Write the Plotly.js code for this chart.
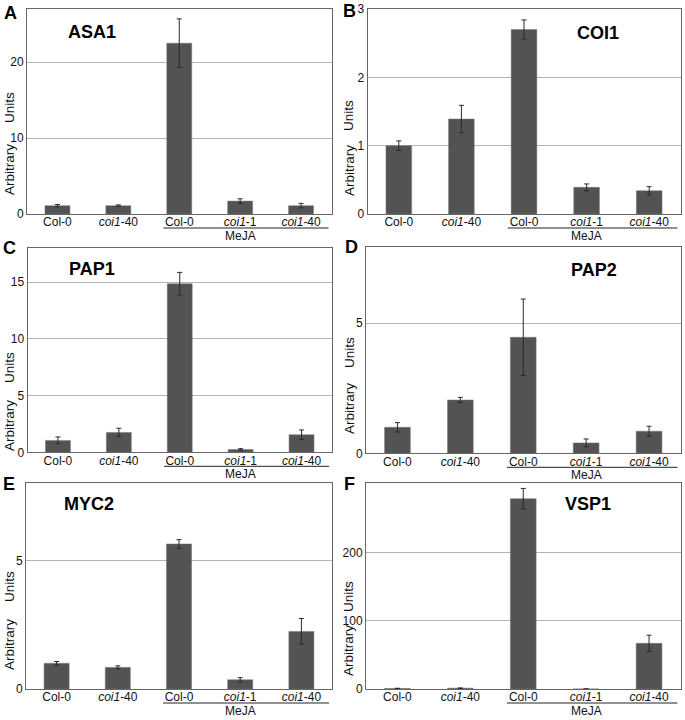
<!DOCTYPE html>
<html><head><meta charset="utf-8">
<script src="https://cdn.plot.ly/plotly-3.0.1.min.js"></script>
<style>body{margin:0;background:#fff}#chart{width:685px;height:720px}</style>
</head><body><div id="chart"></div>
<script>
// ---- data ----
const tickLabels = ['Col-0', '<i>coi1</i>-40', 'Col-0', '<i>coi1</i>-1', '<i>coi1</i>-40'];
const treatmentLabel = 'MeJA';
const panelLetters = ['A', 'B', 'C', 'D', 'E', 'F'];
const genes = ['ASA1', 'COI1', 'PAP1', 'PAP2', 'MYC2', 'VSP1'];
const asa1 = [1.1, 1.1, 22.5, 1.7, 1.1];
const asa1Err = [0.15, 0.1, 3.2, 0.3, 0.3];
const coi1 = [1.0, 1.39, 2.7, 0.39, 0.34];
const coi1Err = [0.07, 0.2, 0.14, 0.05, 0.06];
const pap1 = [1.05, 1.75, 14.85, 0.25, 1.55];
const pap1Err = [0.3, 0.37, 1.0, 0.07, 0.42];
const pap2 = [1.0, 2.05, 4.46, 0.4, 0.85];
const pap2Err = [0.18, 0.1, 1.47, 0.15, 0.19];
const myc2 = [1.0, 0.84, 5.64, 0.36, 2.24];
const myc2Err = [0.07, 0.06, 0.17, 0.08, 0.5];
const vsp1 = [0.8, 1.2, 278.5, 0.1, 66.8];
const vsp1Err = [0.3, 0.3, 15, 0, 12];
const yRanges = [[0, 27], [0, 3], [0, 18], [0, 7.92], [0, 8], [0, 301]];
const yTicks = [[0, 10, 20], [0, 1, 2, 3], [0, 5, 10, 15], [0, 5], [0, 5], [0, 100, 200]];

// ---- layout geometry (pixels) ----
const W = 685, H = 720;
const px = x => x / W, py = y => 1 - y / H;
const boxes = [
  {l: 27, r: 331.5, t: 9, b: 214},
  {l: 367.5, r: 680.5, t: 9, b: 214},
  {l: 27.5, r: 332, t: 248, b: 452.3},
  {l: 366, r: 680.5, t: 247.3, b: 453.3},
  {l: 26, r: 332, t: 483.3, b: 689},
  {l: 366, r: 680.5, t: 483.3, b: 689}
];
const letterPos = [[10, 13], [349.5, 11], [9.5, 248], [351, 247], [9, 484], [349.5, 484]];
const genePos = [[91.7, 32], [597.7, 33], [91.7, 269], [593.5, 270], [89, 504], [587.5, 504]];
const ytitlePos = [
  {x: 9, a: 170, u: 108}, {x: 349, a: 171, u: 116},
  {x: 9, a: 426, u: 368}, {x: 349, a: 409, u: 353},
  {x: 9, a: 645, u: 587}, {x: 348, a: 650, u: 596}
];

const series = [asa1, coi1, pap1, pap2, myc2, vsp1];
const errs = [asa1Err, coi1Err, pap1Err, pap2Err, myc2Err, vsp1Err];
const xs = [0, 1, 2, 3, 4];
const FONT = 'Liberation Sans, Arial, Helvetica, sans-serif';

const traces = [];
const layout = {
  width: W, height: H, margin: {l: 0, r: 0, t: 0, b: 0},
  paper_bgcolor: '#fff', plot_bgcolor: '#fff', showlegend: false,
  font: {family: FONT, size: 12, color: '#111'},
  annotations: [], shapes: []
};
const ann = (o) => Object.assign({showarrow: false, xanchor: 'center', yanchor: 'middle'}, o);

series.forEach((vals, i) => {
  const n = i + 1, sfx = n === 1 ? '' : String(n);
  traces.push({
    type: 'bar', x: xs, y: vals, xaxis: 'x' + sfx, yaxis: 'y' + sfx, width: 0.41,
    marker: {color: '#535353', line: {color: '#777', width: 0.5}},
    error_y: {type: 'data', array: errs[i], visible: true, color: '#2a2a2a', thickness: 1, width: 2.5},
    hoverinfo: 'skip'
  });
  const b = boxes[i];
  layout['xaxis' + sfx] = {
    domain: [px(b.l), px(b.r)], anchor: 'y' + sfx, range: [-0.5, 4.5],
    tickvals: xs, ticktext: tickLabels, ticks: '', showgrid: false, zeroline: false,
    showline: true, mirror: true, linecolor: '#666', linewidth: 1, ticklabelstandoff: -3,
    tickfont: {family: FONT, size: 12, color: '#111'}, fixedrange: true
  };
  layout['yaxis' + sfx] = {
    domain: [py(b.b), py(b.t)], anchor: 'x' + sfx, range: yRanges[i],
    tickvals: yTicks[i], ticks: '', showgrid: true, gridcolor: '#b4b4b4', gridwidth: 1,
    zeroline: false, showline: true, mirror: true, linecolor: '#666', linewidth: 1,
    tickfont: {family: FONT, size: 12, color: '#111'}, fixedrange: true
  };
  // MeJA underline
  layout.shapes.push({
    type: 'line', xref: 'x' + sfx, yref: 'paper', x0: 1.74, x1: 4.45,
    y0: py(b.b + 14), y1: py(b.b + 14), line: {color: '#222', width: 1}
  });
  layout.annotations.push(ann({
    text: treatmentLabel, xref: 'x' + sfx, yref: 'paper', x: 3.0, y: py(b.b + 21.5),
    font: {family: FONT, size: 12, color: '#111'}
  }));
  // panel letter
  layout.annotations.push(ann({
    text: '<b>' + panelLetters[i] + '</b>', xref: 'paper', yref: 'paper',
    x: px(letterPos[i][0]), y: py(letterPos[i][1]),
    font: {family: FONT, size: 18, color: '#000'}
  }));
  // gene title
  layout.annotations.push(ann({
    text: '<b>' + genes[i] + '</b>', xref: 'paper', yref: 'paper',
    x: px(genePos[i][0]), y: py(genePos[i][1]),
    font: {family: FONT, size: 18, color: '#000'}
  }));
  // y-axis title
  const t = ytitlePos[i];
  layout.annotations.push(ann({
    text: 'Arbitrary', xref: 'paper', yref: 'paper', x: px(t.x), y: py(t.a),
    textangle: -90, font: {family: FONT, size: 13.5, color: '#111'}
  }));
  layout.annotations.push(ann({
    text: 'Units', xref: 'paper', yref: 'paper', x: px(t.x), y: py(t.u),
    textangle: -90, font: {family: FONT, size: 13.5, color: '#111'}
  }));
});

Plotly.newPlot('chart', traces, layout, {staticPlot: true, displayModeBar: false});
</script></body></html>
